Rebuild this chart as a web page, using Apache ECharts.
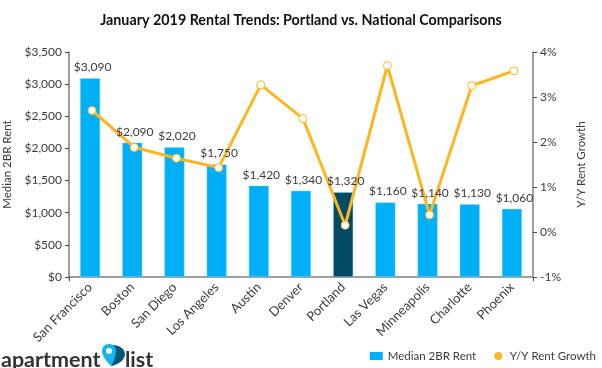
<!DOCTYPE html>
<html>
<head>
<meta charset="utf-8">
<style>
  html, body { margin: 0; padding: 0; background: #fff; }
  #chart { width: 602px; height: 368px; }
</style>
</head>
<body>
<div id="chart"></div>
<script src="https://cdn.jsdelivr.net/npm/echarts@6/dist/echarts.min.js"></script>
<script>
var cities = ['San Francisco', 'Boston', 'San Diego', 'Los Angeles', 'Austin', 'Denver', 'Portland', 'Las Vegas', 'Minneapolis', 'Charlotte', 'Phoenix'];
var rent = [3090, 2090, 2020, 1750, 1420, 1340, 1320, 1160, 1140, 1130, 1060];
var rentLabels = ['$3,090', '$2,090', '$2,020', '$1,750', '$1,420', '$1,340', '$1,320', '$1,160', '$1,140', '$1,130', '$1,060'];
var growth = [2.70, 1.88, 1.64, 1.43, 3.27, 2.52, 0.15, 3.70, 0.38, 3.25, 3.58];
var highlightCity = 'Portland';

var font = 'Lato';
var textColor = '#3c3c3c';
var axisColor = '#7f7f7f';
var blue = '#00aff5';
var navy = '#004a66';
var orange = '#fdb61f';

// logo pin
echarts.graphic.registerShape('pinBack', echarts.graphic.extendShape({
  buildPath: function (ctx) {
    ctx.moveTo(113, 345);
    ctx.bezierCurveTo(119, 345, 125, 349, 125, 354);
    ctx.bezierCurveTo(125, 360, 118, 365, 111, 366);
    ctx.bezierCurveTo(114, 360, 114, 350, 113, 345);
    ctx.closePath();
  },
}));
echarts.graphic.registerShape('pinFront', echarts.graphic.extendShape({
  buildPath: function (ctx) {
    ctx.moveTo(109, 344);
    ctx.bezierCurveTo(105, 344, 102, 347, 102, 351);
    ctx.bezierCurveTo(102, 356, 107, 362, 111, 366);
    ctx.bezierCurveTo(114, 361, 116, 356, 116, 351);
    ctx.bezierCurveTo(116, 347, 113, 344, 109, 344);
    ctx.closePath();
  },
}));

var chart = echarts.init(document.getElementById('chart'), null, { renderer: 'canvas' });
chart.setOption({
  animation: false,
  textStyle: { fontFamily: font },
  title: {
    text: 'January 2019 Rental Trends: Portland vs. National Comparisons',
    left: 'center',
    top: 8,
    textStyle: { fontFamily: font, fontSize: 14.3, fontWeight: 'bold', color: '#111' },
  },
  grid: [
    { left: 69, right: 69, top: 52, bottom: 91, outerBoundsMode: 'none' },
    // the line sits 2px right of the bars in the original
    { left: 71, right: 67, top: 52, bottom: 91, outerBoundsMode: 'none' },
  ],
  legend: {
    right: 1,
    top: 345,
    itemGap: 18,
    itemWidth: 13,
    itemHeight: 8,
    textStyle: { fontFamily: font, fontSize: 11.5, color: textColor },
    data: [
      { name: 'Median 2BR Rent', icon: 'rect', itemStyle: { color: blue, borderWidth: 0 } },
      { name: 'Y/Y Rent Growth', icon: 'circle', itemStyle: { color: orange, borderWidth: 0 } },
    ],
  },
  xAxis: [
    {
      type: 'category',
      data: cities,
      axisLine: { onZero: false, lineStyle: { color: axisColor, width: 1.5 } },
      axisTick: { alignWithLabel: true, length: 4, lineStyle: { color: '#444' } },
      axisLabel: { rotate: 45, interval: 0, fontSize: 13, color: textColor, margin: 8 },
    },
    {
      // only there for the end ticks on the corners
      type: 'value',
      position: 'bottom',
      min: 0,
      max: 1,
      interval: 1,
      axisLine: { show: false, onZero: false },
      axisTick: { show: true, length: 4, lineStyle: { color: '#444' } },
      axisLabel: { show: false },
      splitLine: { show: false },
    },
    { type: 'category', gridIndex: 1, data: cities, show: false },
  ],
  yAxis: [
    {
      type: 'value',
      min: 0,
      max: 3500,
      interval: 500,
      name: 'Median 2BR Rent',
      nameLocation: 'middle',
      nameGap: 48,
      nameTextStyle: { fontSize: 11.5, color: textColor },
      axisLine: { show: true, lineStyle: { color: axisColor, width: 1.5 } },
      axisTick: { show: true, length: 4, lineStyle: { color: '#444' } },
      axisLabel: {
        fontSize: 12,
        color: textColor,
        margin: 7,
        formatter: function (v) { return '$' + v.toLocaleString('en-US'); },
      },
      splitLine: { show: false },
    },
    {
      type: 'value',
      min: -1,
      max: 4,
      interval: 1,
      name: 'Y/Y Rent Growth',
      nameLocation: 'middle',
      nameGap: 42,
      nameRotate: 90,
      nameTextStyle: { fontSize: 11.5, color: textColor },
      axisLine: { show: true, lineStyle: { color: axisColor, width: 1.5 } },
      axisTick: { show: true, length: 4, lineStyle: { color: '#444' } },
      axisLabel: { fontSize: 12, color: textColor, margin: 7, formatter: '{value}%' },
      splitLine: { show: false },
    },
    { type: 'value', gridIndex: 1, min: -1, max: 4, show: false },
  ],
  series: [
    {
      name: 'Median 2BR Rent',
      type: 'bar',
      barWidth: 20,
      barGap: '-100%',
      data: rent.map(function (v, i) {
        return {
          value: v,
          itemStyle: { color: cities[i] === highlightCity ? navy : blue },
        };
      }),
      itemStyle: { borderColor: '#7fd7fa', borderWidth: 0.5 },
    },
    {
      name: 'Y/Y Rent Growth',
      type: 'line',
      xAxisIndex: 2,
      yAxisIndex: 2,
      z: 3,
      data: growth,
      symbol: 'circle',
      symbolSize: 8,
      lineStyle: { color: orange, width: 3 },
      itemStyle: { color: '#fff', borderColor: orange, borderWidth: 1 },
    },
    {
      // see-through copy of the bars so the labels land on top of the line
      name: 'Rent labels',
      type: 'bar',
      barWidth: 20,
      barGap: '-100%',
      z: 4,
      data: rent,
      itemStyle: { color: 'transparent' },
      label: {
        show: true,
        position: 'top',
        distance: 5,
        offset: [2.5, 0],
        fontSize: 12,
        color: textColor,
        formatter: function (p) { return rentLabels[p.dataIndex]; },
      },
    },
  ],
  graphic: {
    elements: [
      { type: 'text', x: 1, y: 349, style: { text: 'apartment', fontFamily: font, fontSize: 21.5, fontWeight: 'bold', fill: '#333' } },
      { type: 'text', x: 125, y: 349, style: { text: 'list', fontFamily: font, fontSize: 21.5, fontWeight: 'bold', fill: '#333' } },
      { type: 'pinBack', style: { fill: '#00577a' } },
      { type: 'pinFront', style: { fill: '#14b4ec' } },
      { type: 'circle', shape: { cx: 109, cy: 351, r: 3 }, style: { fill: '#fff' } },
    ],
  },
});
</script>
</body>
</html>
